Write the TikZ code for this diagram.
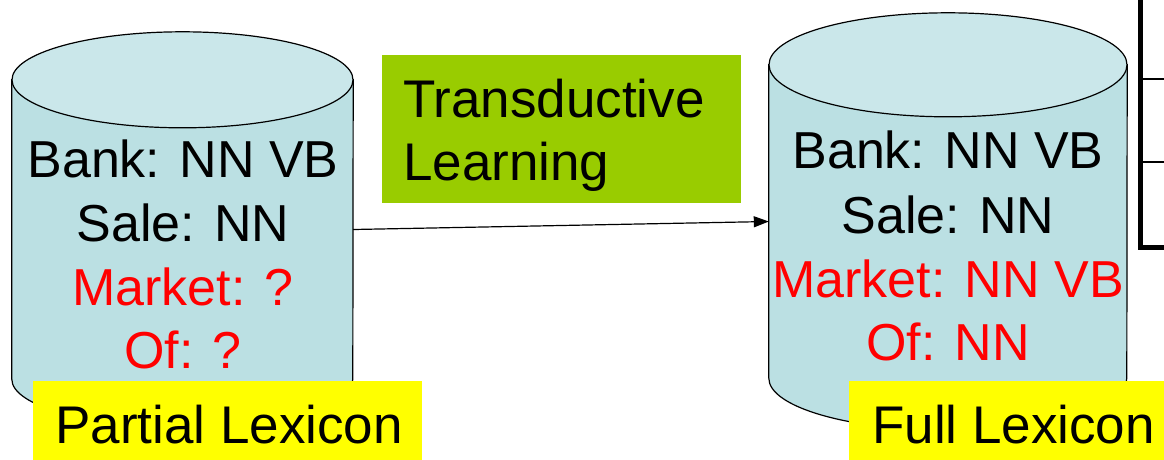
\documentclass[tikz,border=0pt]{standalone}
\usepackage{fontspec}
\setmainfont{Liberation Sans}
\usetikzlibrary{arrows.meta}
\definecolor{cylbody}{HTML}{BBE0E3}
\definecolor{cyltop}{HTML}{CAE7EA}
\definecolor{learngreen}{HTML}{99CC00}
\definecolor{tagyellow}{HTML}{FFFF00}
\definecolor{entryred}{HTML}{FF0000}
\begin{document}
\begin{tikzpicture}[x=1pt,y=-1pt,
  bigtext/.style={font=\fontsize{52}{63.5}\selectfont, inner sep=0pt},
  largetext/.style={font=\fontsize{53}{63.5}\selectfont, inner sep=0pt},
  entry/.style={bigtext, anchor=base},
  newentry/.style={entry, text=entryred},
  body/.style={draw=none, inner sep=0pt, minimum width=#1},
  cylline/.style={draw=black, line width=1.2pt},
  tagbox/.style={fill=tagyellow, draw=none},
  link/.style={draw=black, line width=1.2pt, -{Triangle[length=15pt,width=11pt]}},
  tableline/.style={draw=black, line width=1.3pt},
  tableframe/.style={draw=black, line width=5pt}]
\useasboundingbox (0,0) rectangle (1164,459);

% cylinder bodies (invisible nodes used as connector ends)
\node[body=341pt, minimum height=299pt] (lbody) at (182.5,229.5) {};
\node[body=358pt, minimum height=313pt] (rbody) at (948,221.5) {};

% left cylinder
\path[cylline, fill=cylbody] (lbody.north west) -- (lbody.south west)
  arc[start angle=180, end angle=360, x radius=170.5pt, y radius=48pt]
  -- (lbody.north east) -- cycle;
\path[cylline, fill=cyltop] (lbody.north) ellipse[x radius=170.5pt, y radius=48pt];

% right cylinder
\path[cylline, fill=cylbody] (rbody.north west) -- (rbody.south west)
  arc[start angle=180, end angle=360, x radius=179pt, y radius=52pt]
  -- (rbody.north east) -- cycle;
\path[cylline, fill=cyltop] (rbody.north) ellipse[x radius=179pt, y radius=52pt];

% lexicon entries
\node[entry] (lbank) at (183,177) {Bank: NN VB};
\node[entry] (lsale) at (183,241) {Sale: NN};
\node[newentry] (lmarket) at (183,305) {Market: ?};
\node[newentry] (lof) at (183,368) {Of: ?};

\node[entry] (rbank) at (948,168) {Bank: NN VB};
\node[entry] (rsale) at (948,233) {Sale: NN};
\node[newentry] (rmarket) at (948,297) {Market: NN VB};
\node[newentry] (rof) at (948,360) {Of: NN};

% learning step
\node[fill=learngreen, draw=none, anchor=north west, minimum width=359pt,
  minimum height=148pt, inner sep=0pt] (learn) at (382,55) {};
\node[largetext, anchor=base west] (learn1) at (403,117) {Transductive};
\node[largetext, anchor=base west] (learn2) at (403,180) {Learning};

\draw[link] (lbody.east) -- (rbody.west);

% captions
\node[tagbox, anchor=north west, minimum width=389pt, minimum height=85pt,
  inner sep=0pt] (ptag) at (33,381) {};
\node[largetext, anchor=base west] (ptext) at (55,443) {Partial Lexicon};
\node[tagbox, anchor=north west, minimum width=330pt, minimum height=85pt,
  inner sep=0pt] (ftag) at (849,381) {};
\node[largetext, anchor=base west] (ftext) at (872,443) {Full Lexicon};

% table frame at the right edge
\coordinate (ttop) at (1140,-5);
\coordinate (tcorner) at (1140,247);
\coordinate (tend) at (1175,247);
\draw[tableframe] (ttop) -- (tcorner) -- (tend);
\coordinate (row1a) at (1140,79);
\coordinate (row1b) at (1175,79);
\coordinate (row2a) at (1140,162);
\coordinate (row2b) at (1175,162);
\draw[tableline] (row1a) -- (row1b);
\draw[tableline] (row2a) -- (row2b);
\end{tikzpicture}
\end{document}
